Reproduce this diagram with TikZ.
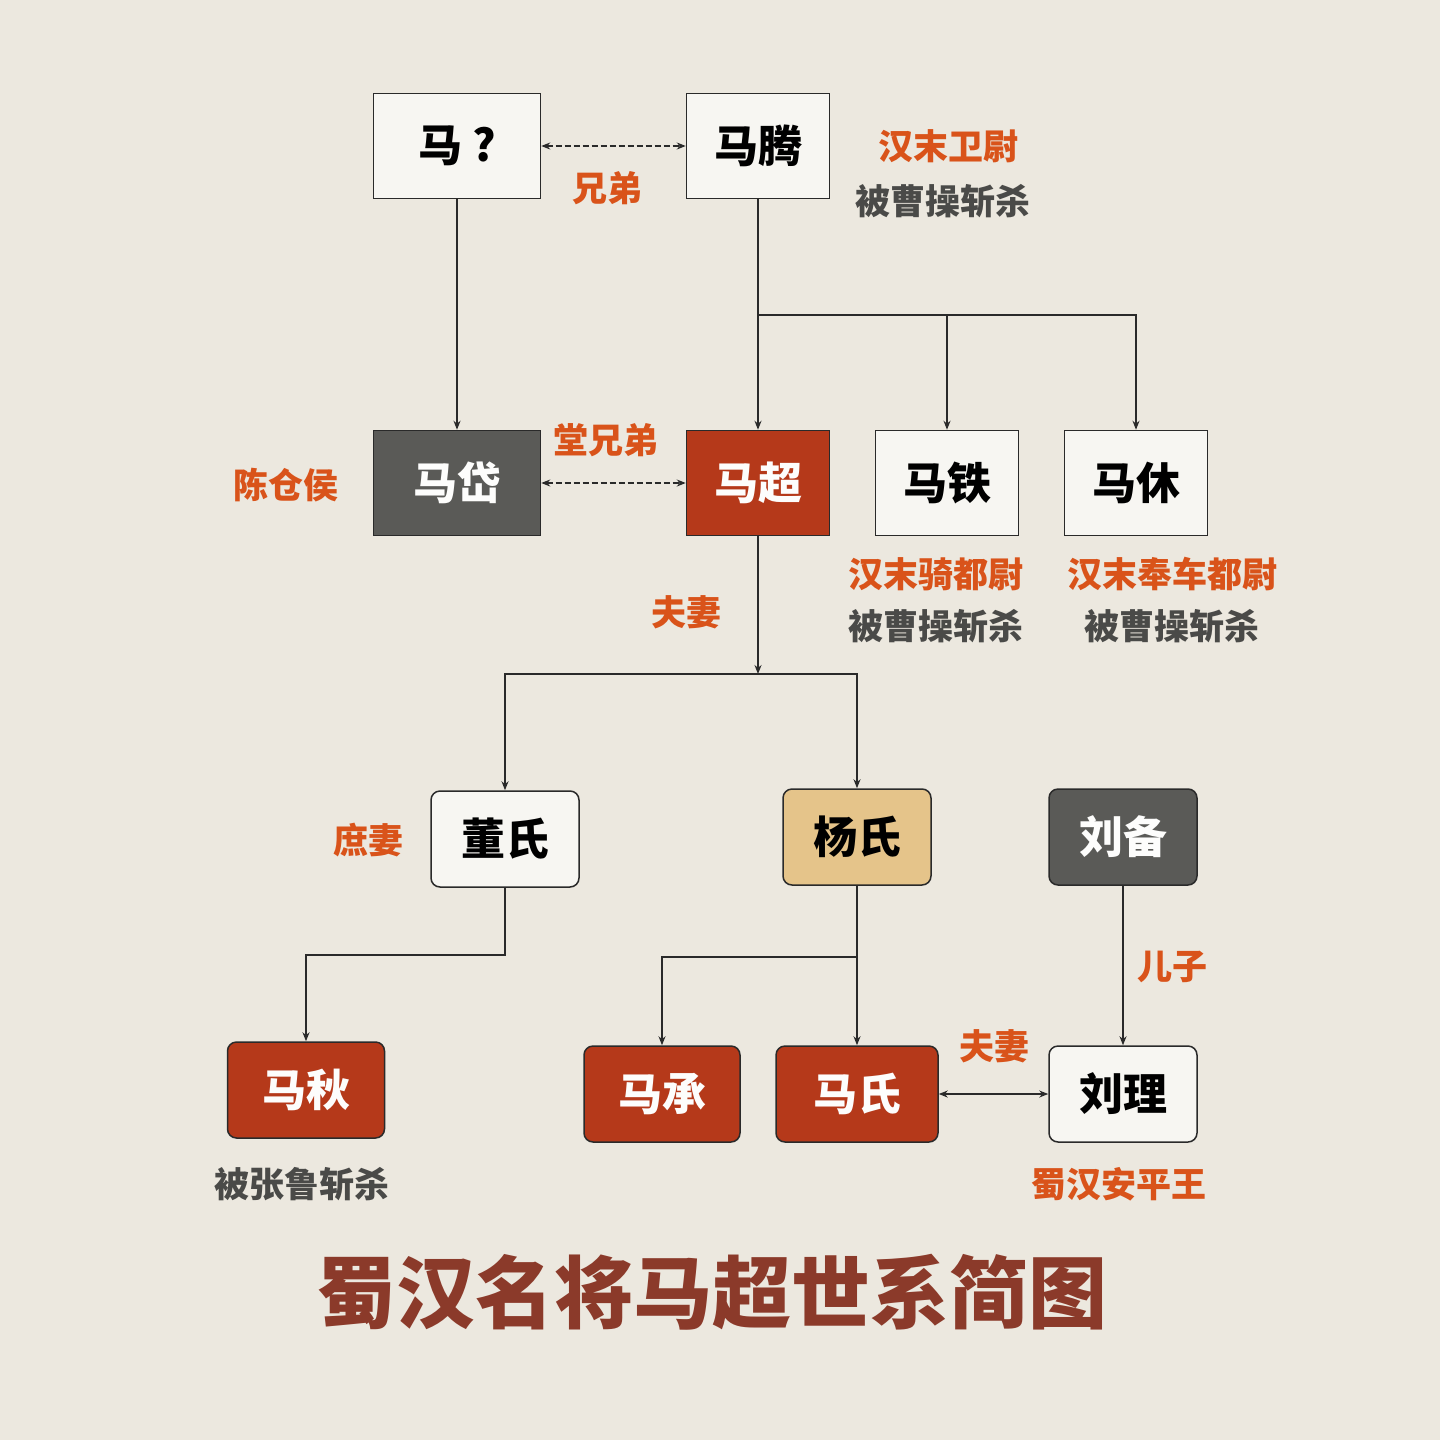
\documentclass[tikz,border=0pt]{standalone}
\usepackage{fontspec}
\newfontfamily\cjk{Noto Sans CJK SC}
\usetikzlibrary{arrows.meta}
\definecolor{bg}{HTML}{ECE8DF}
\definecolor{redb}{HTML}{B5391A}
\definecolor{grayb}{HTML}{5A5A57}
\definecolor{gold}{HTML}{E5C48A}
\definecolor{org}{HTML}{D9531A}
\definecolor{gtxt}{HTML}{4A4A48}
\definecolor{ttl}{HTML}{8B3A2A}
\definecolor{ln}{HTML}{2A2A2A}
\begin{document}
\begin{tikzpicture}[x=1pt,y=-1pt,
  box/.style={draw=ln,line width=1.5pt,minimum width=#1,minimum height=105,inner sep=0,font=\cjk\bfseries\fontsize{44}{48}\selectfont},
  box/.default=143,
  rbox/.style={box=#1,rounded corners=9,minimum height=96},
  rbox/.default=148,
  lo/.style={font=\cjk\bfseries\fontsize{35}{38}\selectfont,text=org},
  lg/.style={font=\cjk\bfseries\fontsize{35}{38}\selectfont,text=gtxt},
  cn/.style={draw=ln,line width=1.5pt,-{Stealth[length=9,width=7,open]}},
  dn/.style={draw=ln,line width=1.5pt,dash pattern=on 6pt off 3pt,{Stealth[length=9,width=7,open]}-{Stealth[length=9,width=7,open]}}]
\fill[bg] (0,0) rectangle (1440,1440);
\useasboundingbox (0,0) rectangle (1440,1440);
\node[box=167,fill=white!60!bg] (mq) at (457,146) {马 ?};
\node[box,fill=white!60!bg] (mt) at (758,146) {马腾};
\node[box=167,fill=grayb,text=white!90!bg] (md) at (457,483) {马岱};
\node[box,fill=redb,text=white!90!bg] (mc) at (758,483) {马超};
\node[box,fill=white!60!bg] (mtie) at (947,483) {马铁};
\node[box,fill=white!60!bg] (mx) at (1136,483) {马休};
\node[rbox,fill=white!60!bg] (ds) at (505,839) {董氏};
\node[rbox,fill=gold] (ys) at (857,837) {杨氏};
\node[rbox,fill=grayb,text=white!90!bg] (lb) at (1123,837) {刘备};
\node[rbox=157,fill=redb,text=white!90!bg] (mqiu) at (306,1090) {马秋};
\node[rbox=156,fill=redb,text=white!90!bg] (mch) at (662,1094) {马承};
\node[rbox=162,fill=redb,text=white!90!bg] (ms) at (857,1094) {马氏};
\node[rbox,fill=white!60!bg] (ll) at (1123,1094) {刘理};
\node[lo] (l1) at (948,146) {汉末卫尉};
\node[lg] (l2) at (943,201) {被曹操斩杀};
\node[lo] (l3) at (607,188) {兄弟};
\node[lo] (l4) at (606,440) {堂兄弟};
\node[lo] (l5) at (286,485) {陈仓侯};
\node[lo] (l6) at (936,574) {汉末骑都尉};
\node[lg] (l7) at (936,626) {被曹操斩杀};
\node[lo] (l8) at (1172,574) {汉末奉车都尉};
\node[lg] (l9) at (1172,626) {被曹操斩杀};
\node[lo] (l10) at (686,612) {夫妻};
\node[lo] (l11) at (368,840) {庶妻};
\node[lo] (l12) at (1172,967) {儿子};
\node[lo] (l13) at (994,1046) {夫妻};
\node[lg] (l14) at (302,1184) {被张鲁斩杀};
\node[lo] (l15) at (1119,1184) {蜀汉安平王};
\node[font=\cjk\bfseries\fontsize{79}{82}\selectfont,text=ttl] (t) at (712,1292) {蜀汉名将马超世系简图};
\draw[dn] (mq) -- (mt);
\draw[dn] (md) -- (mc);
\draw[cn] (mq) -- (md);
\draw[cn] (mt) -- (mc);
\coordinate (b1) at (758,315);
\draw[cn] (b1) -| (mtie);
\draw[cn] (b1) -| (mx);
\coordinate (b2) at (758,674);
\draw[cn] (mc) -- (b2);
\draw[cn] (b2) -| (ds);
\draw[cn] (b2) -| (ys);
\coordinate (b3) at (505,955);
\draw[cn] (ds) -- (b3) -| (mqiu);
\draw[cn] (ys) -- (ms);
\coordinate (b4) at (857,957);
\draw[cn] (b4) -| (mch);
\draw[cn] (lb) -- (ll);
\draw[draw=ln,line width=1.5pt,{Stealth[length=9,width=7,open]}-{Stealth[length=9,width=7,open]}] (ms) -- (ll);
\end{tikzpicture}
\end{document}
